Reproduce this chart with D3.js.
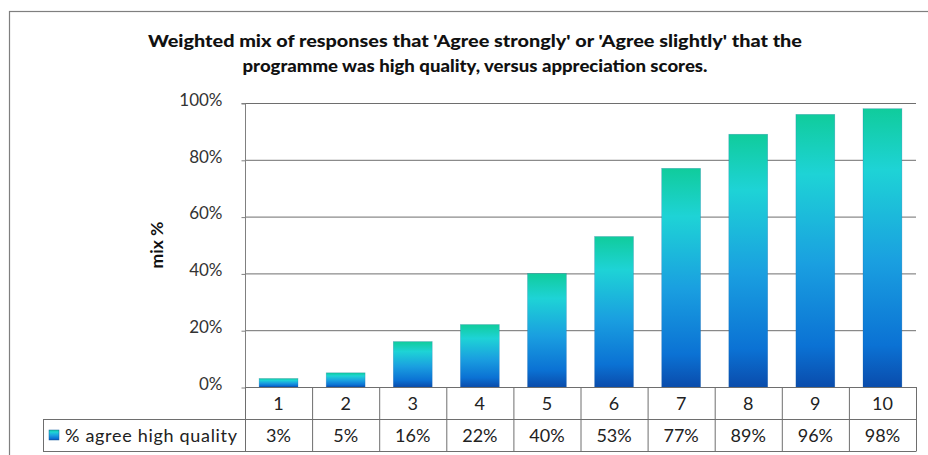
<!DOCTYPE html>
<html><head><meta charset="utf-8">
<script src="https://cdn.jsdelivr.net/npm/d3@7"></script>
<style>
html,body{margin:0;padding:0;background:#fff;}
svg{display:block;font-family:Lato,"Open Sans",sans-serif;}
</style></head>
<body>
<svg id="chart" width="928" height="455"></svg>
<script>
const categories = ["1","2","3","4","5","6","7","8","9","10"];
const values = [3,5,16,22,40,53,77,89,96,98];
const valueLabels = ["3%","5%","16%","22%","40%","53%","77%","89%","96%","98%"];
const yTicks = [0,20,40,60,80,100];
const seriesName = "% agree high quality";
const titleLines = ["Weighted mix of responses  that 'Agree strongly' or 'Agree slightly' that the",
                    "programme was high quality, versus appreciation scores."];
const yTitle = "mix %";

const svg = d3.select("#chart");
const W = 928, H = 455;
const pLeft = 245, pRight = 916, pTop = 103, pBottom = 387;
const rowH = 32;

// outer border
svg.append("rect").attr("x",9.5).attr("y",11.5).attr("width",W).attr("height",H)
  .attr("fill","none").attr("stroke","#7f7f7f").attr("stroke-width",1.2);

// gradient
const defs = svg.append("defs");
const grad = defs.append("linearGradient").attr("id","barGrad")
  .attr("x1",0).attr("y1",0).attr("x2",0).attr("y2",1);
[[0,"#10cc9c"],[0.22,"#1ed3d6"],[0.55,"#1a9fe0"],[0.85,"#0b72d4"],[1,"#0a4cac"]].forEach(([o,c])=>
  grad.append("stop").attr("offset",o).attr("stop-color",c));

const x = d3.scaleBand().domain(categories).range([pLeft,pRight]).paddingInner(0.42).paddingOuter(0.21);
const xCol = d3.scaleBand().domain(categories).range([pLeft,pRight]).padding(0);
const y = d3.scaleLinear().domain([0,100]).range([pBottom,pTop]);

// title
svg.append("g").selectAll("text").data(titleLines).join("text")
  .attr("x",475).attr("y",(d,i)=>47+i*25).attr("text-anchor","middle")
  .attr("font-weight","900").attr("font-size",17).attr("fill","#111")
  .text(d=>d).each(function(d,i){
    const target = i===0 ? 654 : 465;
    d3.select(this).attr("textLength",target).attr("lengthAdjust","spacingAndGlyphs");
  });

// gridlines
svg.append("g").selectAll("line").data(yTicks.filter(t=>t>0)).join("line")
  .attr("x1",pLeft).attr("x2",pRight).attr("y1",d=>y(d)+0.5).attr("y2",d=>y(d)+0.5)
  .attr("stroke","#6e6e6e").attr("stroke-width",1);

// y axis
const yAxis = d3.axisLeft(y).tickValues(yTicks).tickFormat(d=>d+"%").tickSize(4).tickPadding(19);
const ya = svg.append("g").attr("transform",`translate(${pLeft+0.5},0.5)`).call(yAxis);
ya.select(".domain").attr("stroke","#808080").attr("d",`M-4,${pTop}H0V${pBottom+rowH}`);
ya.selectAll(".tick line").attr("stroke","#808080");
ya.selectAll(".tick text").attr("font-size",17).attr("fill","#333").attr("font-family","Lato,sans-serif").attr("dy","0.1em");

// y title
svg.append("text").attr("transform",`translate(163,${(pTop+pBottom)/2}) rotate(-90)`)
  .attr("text-anchor","middle").attr("font-weight","bold").attr("font-size",17.5).attr("fill","#111").text(yTitle);

// bars
svg.append("g").selectAll("rect").data(values).join("rect")
  .attr("x",(d,i)=>x(categories[i])).attr("width",x.bandwidth())
  .attr("y",d=>y(d)).attr("height",d=>pBottom-y(d))
  .attr("fill","url(#barGrad)").attr("stroke","#1b5fa0").attr("stroke-opacity",0.35).attr("stroke-width",0.6);

// data table
const tg = svg.append("g").attr("stroke","#6e6e6e").attr("stroke-width",1);
tg.append("line").attr("x1",pLeft).attr("x2",pRight+0.5).attr("y1",pBottom+0.5).attr("y2",pBottom+0.5);
tg.append("line").attr("x1",43).attr("x2",pRight+0.5).attr("y1",pBottom+rowH+0.5).attr("y2",pBottom+rowH+0.5);
tg.append("line").attr("x1",43).attr("x2",pRight+0.5).attr("y1",pBottom+2*rowH+0.5).attr("y2",pBottom+2*rowH+0.5);
tg.append("line").attr("x1",43.5).attr("x2",43.5).attr("y1",pBottom+rowH).attr("y2",pBottom+2*rowH);
tg.selectAll(".v").data(categories).join("line").attr("class","v")
  .attr("x1",d=>xCol(d)+xCol.bandwidth()+0.5).attr("x2",d=>xCol(d)+xCol.bandwidth()+0.5)
  .attr("y1",pBottom).attr("y2",pBottom+2*rowH);
tg.append("line").attr("x1",pLeft+0.5).attr("x2",pLeft+0.5).attr("y1",pBottom).attr("y2",pBottom+2*rowH);

svg.append("g").selectAll("text").data(categories).join("text")
  .attr("x",d=>xCol(d)+xCol.bandwidth()/2).attr("y",pBottom+rowH/2+6.5)
  .attr("text-anchor","middle").attr("font-size",18).attr("fill","#222").text(d=>d);
svg.append("g").selectAll("text").data(valueLabels).join("text")
  .attr("x",(d,i)=>xCol(categories[i])+xCol.bandwidth()/2).attr("y",pBottom+rowH*1.5+6.5)
  .attr("text-anchor","middle").attr("font-size",18).attr("fill","#222").text(d=>d);

// legend key
svg.append("rect").attr("x",49).attr("y",pBottom+rowH*1.5-5).attr("width",10).attr("height",10)
  .attr("fill","url(#barGrad)").attr("stroke","#1b5fa0").attr("stroke-width",0.5);
svg.append("text").attr("x",65).attr("y",pBottom+rowH*1.5+6.5).attr("font-size",18).attr("fill","#222")
  .attr("textLength",172).attr("lengthAdjust","spacing").text(seriesName);
</script>
</body></html>
